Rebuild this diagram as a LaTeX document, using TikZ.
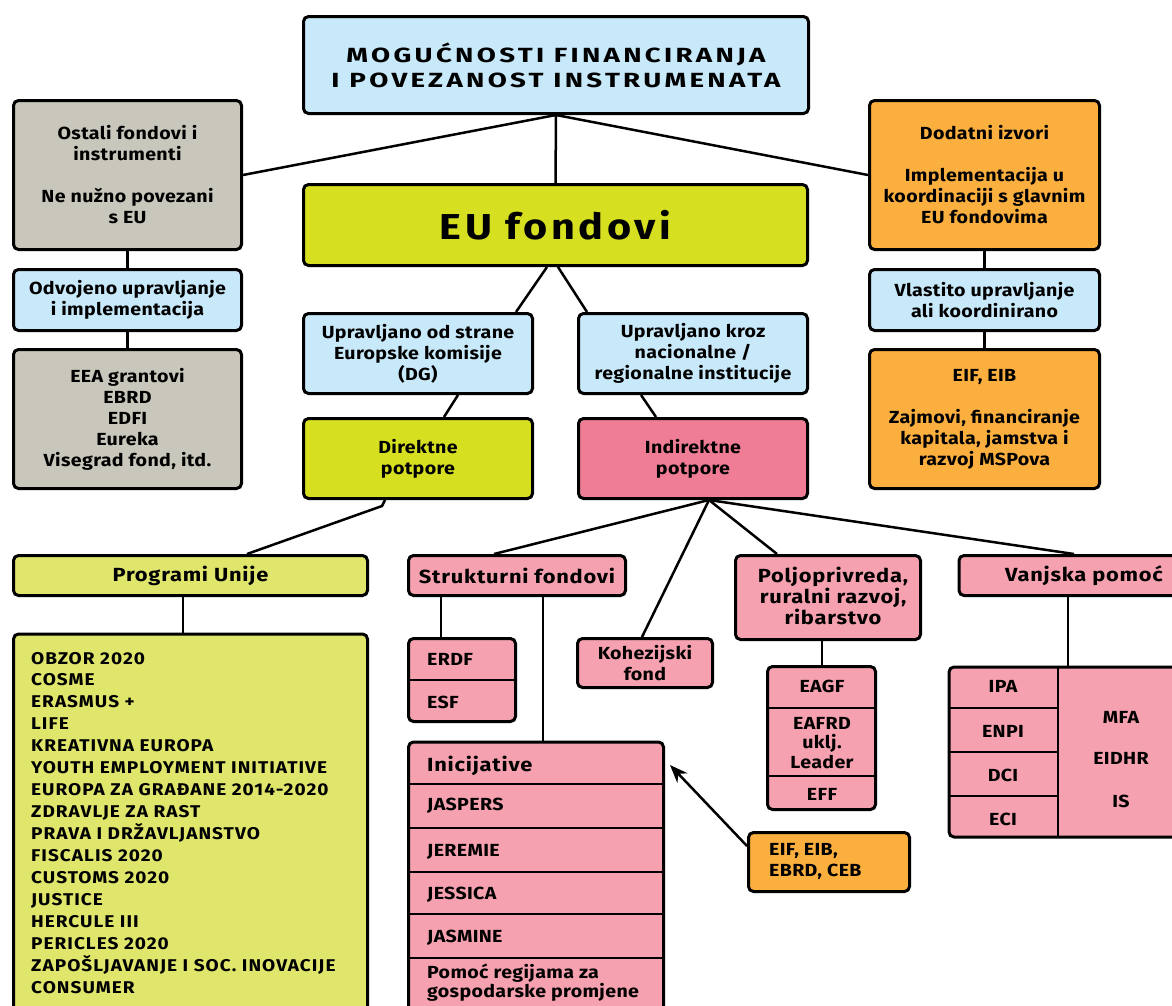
\documentclass[tikz,border=0pt]{standalone}
\usepackage{fontspec}
\setmainfont{Fira Sans}[FakeStretch=1.12, LetterSpace=2]
\newfontfamily\titlefont{Fira Sans}[FakeStretch=1.35, LetterSpace=16]
\newfontfamily\eufont{Fira Sans}[FakeStretch=1.15, LetterSpace=10]
\newfontfamily\capsfont{Fira Sans}[FakeStretch=1.12, LetterSpace=6]
\newfontfamily\headfont{Fira Sans}[FakeStretch=1.15, LetterSpace=4]
\usetikzlibrary{arrows.meta}
\definecolor{cblue}{HTML}{C8E9FA}
\definecolor{cgray}{HTML}{C9C7BB}
\definecolor{clime}{HTML}{D7DF21}
\definecolor{clight}{HTML}{DFE66B}
\definecolor{corange}{HTML}{FBAF3F}
\definecolor{cpinkd}{HTML}{F07D96}
\definecolor{cpink}{HTML}{F5A1AF}
\tikzset{
  box/.style={draw=black, line width=3pt, rounded corners=5pt, align=center, inner sep=0pt,
    font=\bfseries\fontsize{17.5}{21}\selectfont, text=black},
  headtext/.style={font=\headfont\bfseries\fontsize{19}{21}\selectfont},
  conn/.style={line width=2.5pt, draw=black},
  div/.style={line width=2.5pt, draw=black},
  celltext/.style={inner sep=0pt, font=\bfseries\fontsize{17.5}{21}\selectfont, text=black},
  listtext/.style={inner sep=0pt, anchor=base west, font=\capsfont\bfseries\fontsize{17}{21}\selectfont, text=black},
  arr/.style={line width=2.5pt, draw=black, -{Stealth[length=18pt,width=14pt]}}
}
\begin{document}
\begin{tikzpicture}[x=1pt,y=-1pt]
\useasboundingbox (0,0) rectangle (1172,1005);
\fill[white] (0,0) rectangle (1172,1005);
\clip (0,0) rectangle (1172,1005);

% top level
\node[box, fill=cblue, minimum width=505pt, minimum height=97pt,
  font=\titlefont\bfseries\fontsize{20.5}{25}\selectfont] (title) at (556,65)
  {MOGUĆNOSTI FINANCIRANJA\\I POVEZANOST INSTRUMENATA};
\node[box, fill=clime, minimum width=504pt, minimum height=81pt,
  font=\eufont\bfseries\fontsize{36}{40}\selectfont] (eu) at (555.5,225) {EU fondovi};

% left column
\node[box, fill=cgray, minimum width=228pt, minimum height=149pt] (ostali) at (127.5,175)
  {Ostali fondovi i\\instrumenti\\[21pt]Ne nužno povezani\\s EU};
\node[box, fill=cblue, minimum width=228pt, minimum height=61pt] (odvojeno) at (127.5,300)
  {Odvojeno upravljanje\\i implementacija};
\node[box, fill=cgray, minimum width=228pt, minimum height=139pt] (eea) at (127.5,419)
  {EEA grantovi\\EBRD\\EDFI\\Eureka\\Visegrad fond, itd.};

% right column
\node[box, fill=corange, minimum width=230pt, minimum height=149pt] (dodatni) at (984.5,175)
  {Dodatni izvori\\[21pt]Implementacija u\\koordinaciji s glavnim\\EU fondovima};
\node[box, fill=cblue, minimum width=230pt, minimum height=61pt] (vlastito) at (984.5,300)
  {Vlastito upravljanje\\ali koordinirano};
\node[box, fill=corange, minimum width=230pt, minimum height=139pt] (eifeib) at (984.5,419)
  {EIF, EIB\\[21pt]Zajmovi, financiranje\\kapitala, jamstva i\\razvoj MSPova};

% middle
\node[box, fill=cblue, minimum width=229pt, minimum height=80pt] (uprdg) at (418,353.5)
  {Upravljano od strane\\Europske komisije\\(DG)};
\node[box, fill=cblue, minimum width=229pt, minimum height=80pt] (uprnat) at (693,353.5)
  {Upravljano kroz\\nacionalne /\\regionalne institucije};
\node[box, fill=clime, minimum width=229pt, minimum height=80pt] (direkt) at (418,458.5)
  {Direktne\\potpore};
\node[box, fill=cpinkd, minimum width=229pt, minimum height=80pt] (indirekt) at (693,458.5)
  {Indirektne\\potpore};

% programi unije
\node[box, fill=clight, minimum width=354pt, minimum height=40pt, headtext] (programi) at (190.5,575.5)
  {Programi Unije};
\node[box, fill=clight, minimum width=354pt, minimum height=406pt] (proglist) at (190.5,837) {};
\foreach \t [count=\i from 0] in {OBZOR 2020, COSME, ERASMUS +, LIFE, KREATIVNA EUROPA,
  YOUTH EMPLOYMENT INITIATIVE, EUROPA ZA GRAĐANE 2014-2020, ZDRAVLJE ZA RAST,
  PRAVA I DRŽAVLJANSTVO, FISCALIS 2020, CUSTOMS 2020, JUSTICE, HERCULE III,
  PERICLES 2020, ZAPOŠLJAVANJE I SOC. INOVACIJE, CONSUMER}
  \node[listtext] (pl\i) at (31,664+21.96*\i) {\t};

% strukturni fondovi
\node[box, fill=cpink, minimum width=217pt, minimum height=40pt, headtext] (strukt) at (517,575.5)
  {Strukturni fondovi};
\node[box, fill=cpink, minimum width=107pt, minimum height=83pt] (erdf) at (462,680) {};
\draw[div] (erdf.west) -- (erdf.east);
\node[celltext, anchor=west] (erdft) at (427,659) {ERDF};
\node[celltext, anchor=west] (esft) at (427,702) {ESF};

\node[box, fill=cpink, minimum width=255pt, minimum height=297pt] (inic) at (536,890.5) {};
\foreach \yy in {784,828,872,914,958}
  \draw[div] (407,\yy) -- (665,\yy);
\node[celltext, anchor=west, headtext] (inict) at (427,766) {Inicijative};
\node[celltext, anchor=west] (jaspers) at (427,806) {JASPERS};
\node[celltext, anchor=west] (jeremie) at (427,852) {JEREMIE};
\node[celltext, anchor=west] (jessica) at (427,895) {JESSICA};
\node[celltext, anchor=west] (jasmine) at (427,938) {JASMINE};
\node[celltext, anchor=west, align=left, font=\bfseries\fontsize{17.5}{17}\selectfont] (pomoc) at (427,982.5)
  {Pomoć regijama za\\gospodarske promjene};

% kohezijski
\node[box, fill=cpink, minimum width=135pt, minimum height=49pt] (kohez) at (645,663)
  {Kohezijski\\fond};

% poljoprivreda
\node[box, fill=cpink, minimum width=185pt, minimum height=84pt] (polj) at (828,597.5) {};
\node[celltext, align=center, headtext] (poljt) at (833,596) {Poljoprivreda,\\ruralni razvoj,\\ribarstvo};
\node[box, fill=cpink, minimum width=108pt, minimum height=143pt] (eagf) at (821.5,738) {};
\draw[div] (766,708) -- (877,708);
\draw[div] (766,776) -- (877,776);
\node[celltext] (eagft) at (822,686) {EAGF};
\node[celltext, align=center, font=\bfseries\fontsize{17.5}{19.5}\selectfont] (eafrd) at (822,743) {EAFRD\\uklj.\\Leader};
\node[celltext] (efft) at (822,794) {EFF};

% vanjska pomoc
\node[box, fill=cpink, minimum width=240pt, minimum height=40pt] (vanjska) at (1079,575.5) {};
\node[celltext, headtext] (vanjskat) at (1084,575.5) {Vanjska pomoć};
\node[box, fill=cpink, minimum width=250pt, minimum height=170pt] (ipa) at (1074,752) {};
\draw[div] (1058,666) -- (1058,838);
\foreach \yy in {708,752,796}
  \draw[div] (948,\yy) -- (1058,\yy);
\node[celltext] (ipat) at (1003,686) {IPA};
\node[celltext] (enpit) at (1003,731) {ENPI};
\node[celltext] (dcit) at (1003,775) {DCI};
\node[celltext] (ecit) at (1003,819) {ECI};
\node[celltext] (mfat) at (1121,717) {MFA};
\node[celltext] (eidhrt) at (1121,758) {EIDHR};
\node[celltext] (ist) at (1121,801) {IS};

% EIF EIB EBRD CEB
\node[box, fill=corange, minimum width=161pt, minimum height=59pt] (ebrd) at (829,862) {};
\node[celltext, anchor=west, align=left] (ebrdt) at (769,861.5) {EIF, EIB,\\EBRD, CEB};

% connectors
\draw[conn] (title.south) -- (eu.north);
\draw[conn] (title.south) -- (ostali.east);
\draw[conn] (title.south) -- (dodatni.west);
\draw[conn] (ostali.south) -- (odvojeno.north);
\draw[conn] (odvojeno.south) -- (eea.north);
\draw[conn] (dodatni.south) -- (vlastito.north);
\draw[conn] (vlastito.south) -- (eifeib.north);
\draw[conn] ([xshift=-8.5pt]eu.south) -- ([xshift=-18pt]uprdg.north east);
\draw[conn] ([xshift=2.5pt]eu.south) -- ([xshift=10pt]uprnat.north west);
\draw[conn] ([xshift=40pt]uprdg.south) -- ([xshift=26pt]direkt.north);
\draw[conn] ([xshift=-52pt]uprnat.south) -- ([xshift=-37pt]indirekt.north);
\draw[conn] ([xshift=-33pt]direkt.south) -- ++(-3,6) -- ([xshift=56.5pt]programi.north);
\draw[conn] ([xshift=-7.5pt]programi.south) -- ([xshift=-7.5pt]proglist.north);
\draw[conn] ([xshift=16pt]indirekt.south) -- ([xshift=-23pt]strukt.north);
\draw[conn] ([xshift=16pt]indirekt.south) -- ([xshift=-3pt]kohez.north);
\draw[conn] ([xshift=16pt]indirekt.south) -- ([xshift=-51pt]polj.north);
\draw[conn] ([xshift=16pt]indirekt.south) -- ([xshift=-5pt]vanjska.north);
\draw[conn] ([xshift=-76pt]strukt.south) -- ([xshift=-21pt]erdf.north);
\draw[conn] ([xshift=26pt]strukt.south) -- ([xshift=7pt]inic.north);
\draw[conn] ([xshift=-6pt]polj.south) -- ([xshift=0.5pt]eagf.north);
\draw[conn] ([xshift=-11pt]vanjska.south) -- ([xshift=-6pt]ipa.north);
\draw[arr] ([yshift=16pt]ebrd.west) -- ([xshift=5pt,yshift=-24.5pt]inic.north east);
\end{tikzpicture}
\end{document}
